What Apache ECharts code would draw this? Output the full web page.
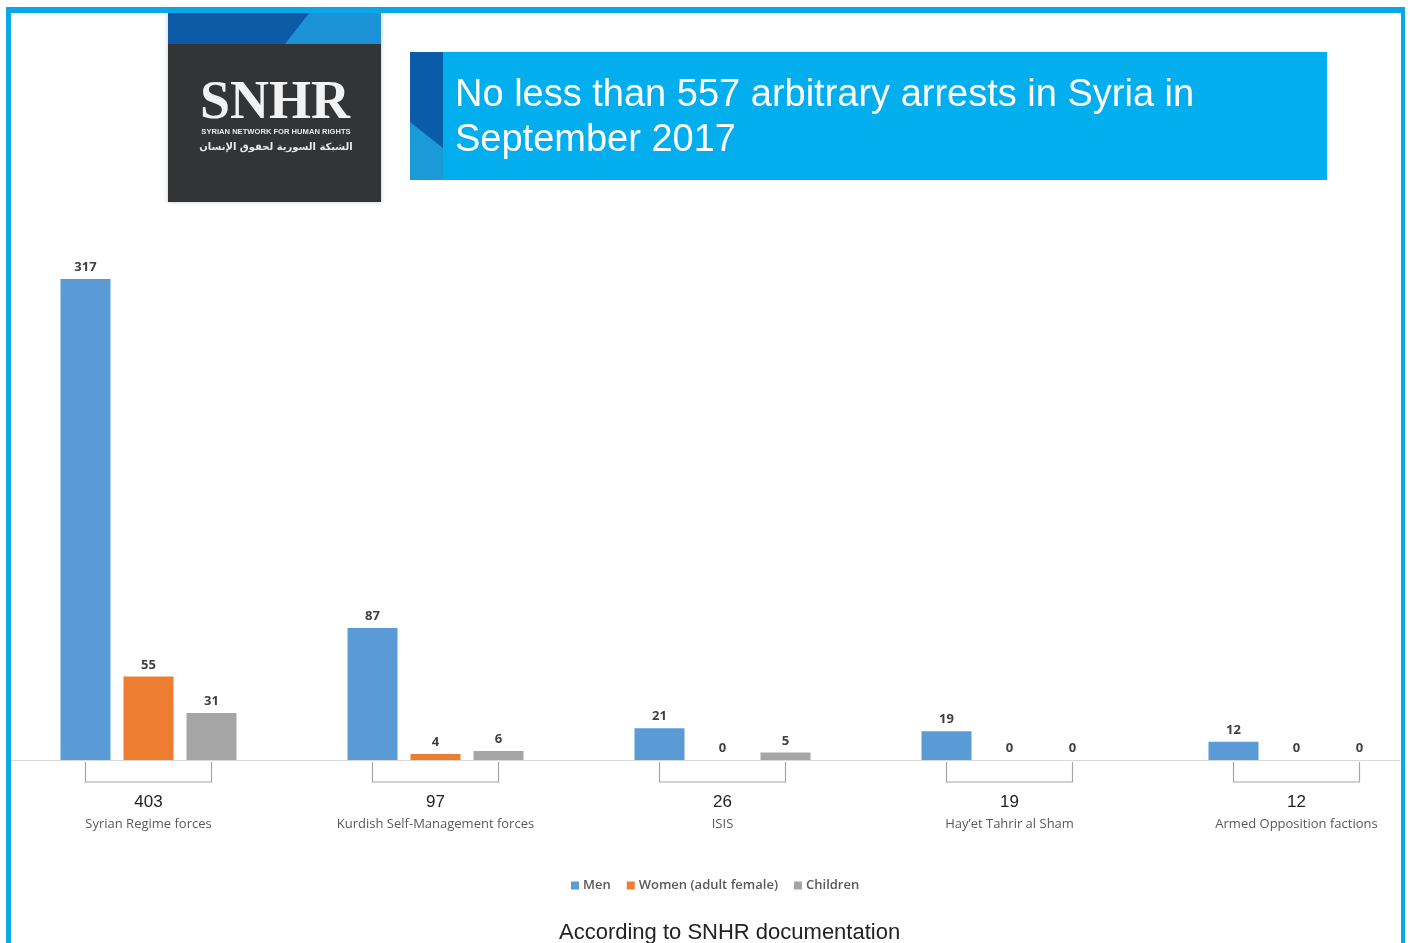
<!DOCTYPE html>
<html>
<head>
<meta charset="utf-8">
<script src="https://cdn.jsdelivr.net/npm/echarts@6/dist/echarts.min.js"></script>
<style>
html,body{margin:0;padding:0;background:#fff;}
#chart{width:1410px;height:943px;}
</style>
</head>
<body>
<div id="chart"></div>
<script>
// ---- data ----
var categories = ['Syrian Regime forces', 'Kurdish Self-Management forces', 'ISIS', 'Hay\u2019et Tahrir al Sham', 'Armed Opposition factions'];
var seriesNames = ['Men', 'Women (adult female)', 'Children'];
var men = [317, 87, 21, 19, 12];
var women = [55, 4, 0, 0, 0];
var children = [31, 6, 5, 0, 0];
var totals = [403, 97, 26, 19, 12];
var titleText = 'No less than 557 arbitrary arrests in Syria in\nSeptember 2017';
var footerText = 'According to SNHR documentation';

// ---- style ----
var BAR_W = 50, BAR_GAP = 13;
var FRAME = '#0aa8e8';
var chart = echarts.init(document.getElementById('chart'), null, {renderer: 'canvas'});

var valueLabel = {
  show: true, position: 'top', distance: 5,
  fontFamily: 'Open Sans', fontWeight: 'bold', fontSize: 13, color: '#404040'
};

function barSeries(name, data, color) {
  return {
    name: name, type: 'bar', data: data, clip: false,
    barWidth: BAR_W, barGap: (BAR_GAP / BAR_W * 100) + '%',
    itemStyle: {color: color},
    label: valueLabel
  };
}

var bracketSeries = {
  type: 'custom',
  silent: true,
  clip: false,
  data: categories.map(function (c, i) { return [i, 0]; }),
  renderItem: function (params, api) {
    var p = api.coord([api.value(0), 0]);
    var off = BAR_W + BAR_GAP;
    var y0 = p[1] + 2, y1 = p[1] + 22;
    return {
      type: 'polyline',
      shape: {points: [[p[0] - off, y0], [p[0] - off, y1], [p[0] + off, y1], [p[0] + off, y0]]},
      style: {stroke: '#a6a6a6', lineWidth: 1.2, fill: null}
    };
  },
  z: 1
};

var option = {
  animation: false,
  backgroundColor: '#fff',
  title: [{
    text: titleText,
    left: 455, top: 73, padding: 0,
    textStyle: {color: '#fff', fontSize: 38, lineHeight: 45, fontWeight: 'normal', fontFamily: 'Liberation Sans'}
  }, {
    text: footerText,
    left: 559, top: 922, padding: 0,
    textStyle: {color: '#222', fontSize: 22, fontWeight: 'normal', fontFamily: 'Liberation Sans'}
  }],
  legend: {
    data: seriesNames,
    left: 566, top: 874,
    icon: 'rect', itemWidth: 8, itemHeight: 8, itemGap: 16,
    textStyle: {fontFamily: 'Open Sans', fontWeight: 600, fontSize: 13, color: '#595959', padding: [0, 0, 0, -1]}
  },
  grid: [
    {left: 148.5, width: 1148, top: 229, height: 531, containLabel: false},
    {left: 10, right: 10, top: 229, height: 531, containLabel: false}
  ],
  xAxis: [{
    type: 'category', data: categories, boundaryGap: false, gridIndex: 0,
    axisLine: {show: false},
    axisTick: {show: false},
    axisLabel: {
      margin: 31, interval: 0,
      formatter: function (v, i) { return '{t|' + totals[i] + '}\n{n|' + v + '}'; },
      rich: {
        t: {fontFamily: 'Liberation Sans', fontSize: 17, color: '#222', lineHeight: 22},
        n: {fontFamily: 'Open Sans', fontSize: 13, color: '#595959', lineHeight: 22}
      }
    }
  }, {
    type: 'category', data: [''], gridIndex: 1,
    axisLine: {show: true, lineStyle: {color: '#d9d9d9', width: 1}},
    axisTick: {show: false}, axisLabel: {show: false}
  }],
  yAxis: [
    {type: 'value', min: 0, max: 350, show: false, splitLine: {show: false}, gridIndex: 0},
    {type: 'value', min: 0, max: 350, show: false, splitLine: {show: false}, gridIndex: 1}
  ],
  series: [
    barSeries(seriesNames[0], men, '#5b9bd5'),
    barSeries(seriesNames[1], women, '#ed7d31'),
    barSeries(seriesNames[2], children, '#a5a5a5'),
    bracketSeries
  ],
  graphic: [
    // title banner
    {type: 'rect', z: -10, shape: {x: 410, y: 52, width: 917, height: 128}, style: {fill: '#03aeef'}},
    {type: 'rect', z: -9, shape: {x: 410, y: 52, width: 33, height: 128}, style: {fill: '#1a9ad6'}},
    {type: 'polygon', z: -8, shape: {points: [[410, 52], [443, 52], [443, 148], [410, 122]]}, style: {fill: '#0b5ca8'}},
    // logo
    {type: 'rect', z: -10, shape: {x: 168, y: 12, width: 213, height: 190}, style: {fill: '#333436', shadowBlur: 4, shadowColor: 'rgba(0,0,0,0.25)'}},
    {type: 'rect', z: -9, shape: {x: 168, y: 12, width: 213, height: 32}, style: {fill: '#1b93d6'}},
    {type: 'polygon', z: -8, shape: {points: [[168, 12], [310, 12], [285, 44], [168, 44]]}, style: {fill: '#0c5aa6'}},
    {type: 'text', z: -7, style: {text: 'SNHR', x: 275, y: 104, align: 'center', verticalAlign: 'middle', fill: '#f2f2f2', font: 'bold 54px "Liberation Serif"'}},
    {type: 'text', z: -7, style: {text: 'SYRIAN NETWORK FOR HUMAN RIGHTS', x: 276, y: 132, align: 'center', verticalAlign: 'middle', fill: '#e8e8e8', font: 'bold 7.6px "Liberation Sans"'}},
    {type: 'text', z: -7, style: {text: 'الشبكة السورية لحقوق الإنسان', x: 276, y: 147, align: 'center', verticalAlign: 'middle', fill: '#e8e8e8', font: 'bold 10px "DejaVu Sans"'}},
    // frame
    {type: 'rect', z: 100, shape: {x: 0, y: 0, width: 6, height: 943}, style: {fill: '#fff'}},
    {type: 'rect', z: 100, shape: {x: 1405, y: 0, width: 5, height: 943}, style: {fill: '#fff'}},
    {type: 'rect', z: 101, shape: {x: 6, y: 7, width: 1399, height: 6}, style: {fill: FRAME}},
    {type: 'rect', z: 101, shape: {x: 6, y: 7, width: 5, height: 936}, style: {fill: FRAME}},
    {type: 'rect', z: 101, shape: {x: 1401, y: 7, width: 4, height: 936}, style: {fill: FRAME}}
  ]
};
chart.setOption(option);
</script>
</body>
</html>
